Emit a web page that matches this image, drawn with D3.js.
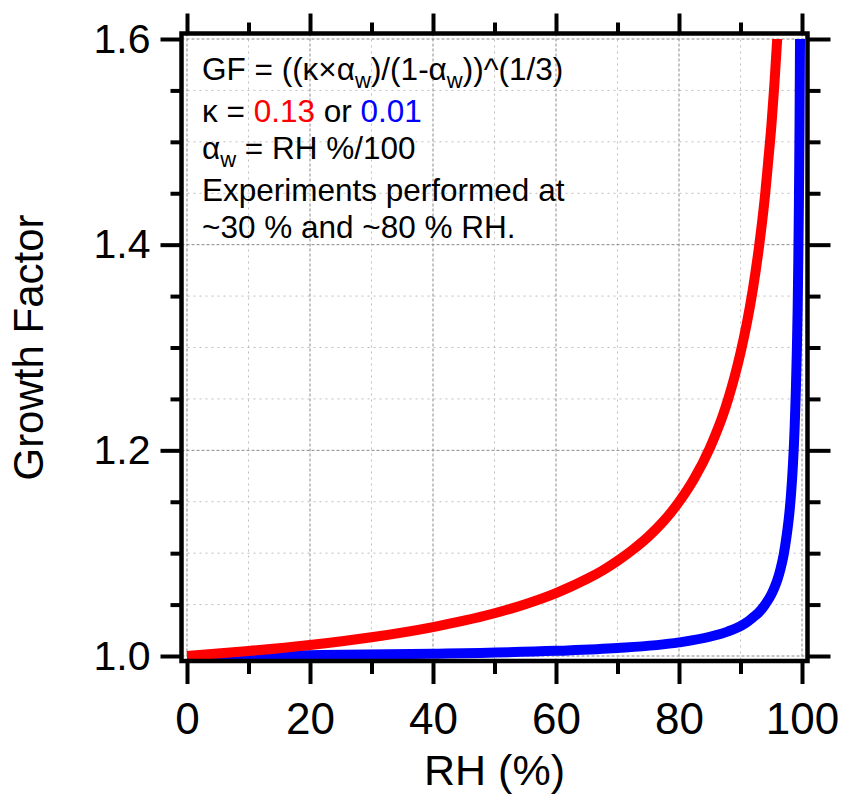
<!DOCTYPE html>
<html lang="en">
<head>
  <meta charset="utf-8">
  <title>Growth Factor vs RH</title>
  <script src="https://d3js.org/d3.v7.min.js"></script>
  <style>
    body {
      margin: 0;
      background: #fff;
      font-family: "Liberation Sans", Arial, sans-serif;
    }
    svg { display: block; }
  </style>
</head>
<body>
  <svg id="chart" width="843" height="795"></svg>

  <script>
    // values
    const rhRed = [0, 10, 20, 30, 40, 45, 50, 55, 60, 62.5, 65, 67.5, 70, 72.5, 75, 77.5, 80, 82.5, 85, 86, 87, 88, 89, 90, 91, 92, 93, 93.5, 94, 94.5, 95, 95.5, 96];
    const gfRed = [1.000, 1.0048, 1.0107, 1.0182, 1.0281, 1.0343, 1.0416, 1.0504, 1.0612, 1.0677, 1.0748, 1.0829, 1.0925, 1.1035, 1.1160, 1.1311, 1.1498, 1.1728, 1.2021, 1.2163, 1.2318, 1.2500, 1.2708, 1.2948, 1.3227, 1.3562, 1.3974, 1.4214, 1.4485, 1.4808, 1.5142, 1.5548, 1.6031];

    const rhBlue = [0, 20, 40, 60, 70, 80, 85, 88, 90, 91, 92, 93, 94, 95, 95.5, 96, 96.5, 97, 97.5, 98, 98.2, 98.5, 98.8, 99, 99.15, 99.3, 99.4, 99.5, 99.6, 99.65, 99.7];
    const gfBlue = [1.000, 1.0008, 1.0022, 1.0050, 1.0077, 1.0132, 1.0187, 1.0240, 1.0291, 1.0326, 1.0374, 1.0425, 1.0500, 1.0597, 1.0663, 1.0742, 1.0845, 1.0978, 1.1169, 1.1423, 1.1562, 1.1832, 1.2214, 1.2580, 1.2942, 1.3400, 1.3849, 1.4410, 1.5171, 1.5700, 1.6290];

    const xMajor = [0, 20, 40, 60, 80, 100];
    const xMinor = [10, 30, 50, 70, 90];
    const yMajor = [1.0, 1.2, 1.4, 1.6];
    const yMinor = [1.05, 1.1, 1.15, 1.25, 1.3, 1.35, 1.45, 1.5, 1.55];

    const kappaRed = "0.13";
    const kappaBlue = "0.01";

    const svg = d3.select("#chart");

    // frame edges (centre of the thick border)
    const frame = { left: 181.5, right: 807.5, top: 33.5, bottom: 661 };

    const x = d3.scaleLinear().domain([0, 100]).range([187, 802]);
    const y = d3.scaleLinear().domain([1.0, 1.6]).range([656, 39]);

    // grid
    const grid = svg.append("g");
    grid.selectAll("line.vminor").data(xMinor).join("line")
        .attr("x1", d => x(d)).attr("x2", d => x(d))
        .attr("y1", frame.top).attr("y2", frame.bottom)
        .attr("stroke", "#bdbdbd").attr("stroke-width", 1).attr("stroke-dasharray", "2,4");
    grid.selectAll("line.hminor").data(yMinor).join("line")
        .attr("y1", d => y(d)).attr("y2", d => y(d))
        .attr("x1", frame.left).attr("x2", frame.right)
        .attr("stroke", "#bdbdbd").attr("stroke-width", 1).attr("stroke-dasharray", "2,4");
    grid.selectAll("line.vmajor").data(xMajor).join("line")
        .attr("x1", d => x(d)).attr("x2", d => x(d))
        .attr("y1", frame.top).attr("y2", frame.bottom)
        .attr("stroke", "#8a8a8a").attr("stroke-width", 1).attr("stroke-dasharray", "3,2");
    grid.selectAll("line.hmajor").data(yMajor).join("line")
        .attr("y1", d => y(d)).attr("y2", d => y(d))
        .attr("x1", frame.left).attr("x2", frame.right)
        .attr("stroke", "#8a8a8a").attr("stroke-width", 1).attr("stroke-dasharray", "3,2");

    // curves
    svg.append("clipPath").attr("id", "clip")
      .append("rect")
        .attr("x", frame.left).attr("y", y(1.6))
        .attr("width", frame.right - frame.left)
        .attr("height", frame.bottom - y(1.6));

    const line = d3.line()
        .x(d => x(d[0]))
        .y(d => y(d[1]))
        .curve(d3.curveMonotoneX);

    const curves = svg.append("g").attr("clip-path", "url(#clip)");
    curves.append("path")
        .attr("d", line(d3.zip(rhBlue, gfBlue)))
        .attr("fill", "none").attr("stroke", "#0000ff").attr("stroke-width", 10);
    curves.append("path")
        .attr("d", line(d3.zip(rhRed, gfRed)))
        .attr("fill", "none").attr("stroke", "#ff0000").attr("stroke-width", 10);

    // frame
    svg.append("rect")
        .attr("x", frame.left).attr("y", frame.top)
        .attr("width", frame.right - frame.left)
        .attr("height", frame.bottom - frame.top)
        .attr("fill", "none").attr("stroke", "#000").attr("stroke-width", 4.5);

    // axes: ticks outside frame
    function styleAxis(g, fontSize) {
      g.select(".domain").remove();
      g.selectAll(".tick line").attr("stroke", "#000").attr("stroke-width", 4);
      g.selectAll(".tick text")
        .attr("fill", "#000")
        .style("font-family", "'Liberation Sans', Arial, sans-serif")
        .style("font-size", fontSize + "px");
    }

    // bottom
    svg.append("g").attr("transform", `translate(0,${frame.bottom})`)
        .call(d3.axisBottom(x).tickValues(xMinor).tickSize(13).tickFormat(""))
        .call(g => styleAxis(g, 0));
    svg.append("g").attr("transform", `translate(0,${frame.bottom})`)
        .call(d3.axisBottom(x).tickValues(xMajor).tickSize(23).tickPadding(19).tickFormat(d3.format("d")))
        .call(g => styleAxis(g, 44));

    // top
    svg.append("g").attr("transform", `translate(0,${frame.top})`)
        .call(d3.axisTop(x).tickValues(xMinor).tickSize(11).tickFormat(""))
        .call(g => styleAxis(g, 0));
    svg.append("g").attr("transform", `translate(0,${frame.top})`)
        .call(d3.axisTop(x).tickValues(xMajor).tickSize(20).tickFormat(""))
        .call(g => styleAxis(g, 0));

    // left
    svg.append("g").attr("transform", `translate(${frame.left},0)`)
        .call(d3.axisLeft(y).tickValues(yMinor).tickSize(11).tickFormat(""))
        .call(g => styleAxis(g, 0));
    svg.append("g").attr("transform", `translate(${frame.left},0)`)
        .call(d3.axisLeft(y).tickValues(yMajor).tickSize(21).tickPadding(10).tickFormat(d3.format(".1f")))
        .call(g => styleAxis(g, 41));

    // right
    svg.append("g").attr("transform", `translate(${frame.right},0)`)
        .call(d3.axisRight(y).tickValues(yMinor).tickSize(13).tickFormat(""))
        .call(g => styleAxis(g, 0));
    svg.append("g").attr("transform", `translate(${frame.right},0)`)
        .call(d3.axisRight(y).tickValues(yMajor).tickSize(23).tickFormat(""))
        .call(g => styleAxis(g, 0));

    // axis titles
    svg.append("text")
        .attr("x", (x(0) + x(100)) / 2).attr("y", 785)
        .attr("text-anchor", "middle")
        .style("font-size", "43px")
        .text("RH (%)");

    svg.append("text")
        .attr("transform", `translate(43,${(y(1.0) + y(1.6)) / 2}) rotate(-90)`)
        .attr("text-anchor", "middle")
        .style("font-size", "42px")
        .text("Growth Factor");

    // annotation
    const note = svg.append("g").style("font-size", "31.5px");
    const tx = 202;

    const l1 = note.append("text").attr("x", tx).attr("y", 80);
    l1.append("tspan").text("GF = ((κ×α");
    l1.append("tspan").attr("dy", 8).style("font-size", "22px").text("w");
    l1.append("tspan").attr("dy", -8).text(")/(1-α");
    l1.append("tspan").attr("dy", 8).style("font-size", "22px").text("w");
    l1.append("tspan").attr("dy", -8).text("))^(1/3)");

    const l2 = note.append("text").attr("x", tx).attr("y", 122);
    l2.append("tspan").text("κ = ");
    l2.append("tspan").attr("fill", "#ff0000").text(kappaRed);
    l2.append("tspan").text(" or ");
    l2.append("tspan").attr("fill", "#0000ff").text(kappaBlue);

    const l3 = note.append("text").attr("x", tx).attr("y", 159);
    l3.append("tspan").text("α");
    l3.append("tspan").attr("dy", 8).style("font-size", "22px").text("w");
    l3.append("tspan").attr("dy", -8).text(" = RH %/100");

    note.append("text").attr("x", tx).attr("y", 201).text("Experiments performed at");
    note.append("text").attr("x", tx).attr("y", 238).text("~30 % and ~80 % RH.");
  </script>
</body>
</html>
